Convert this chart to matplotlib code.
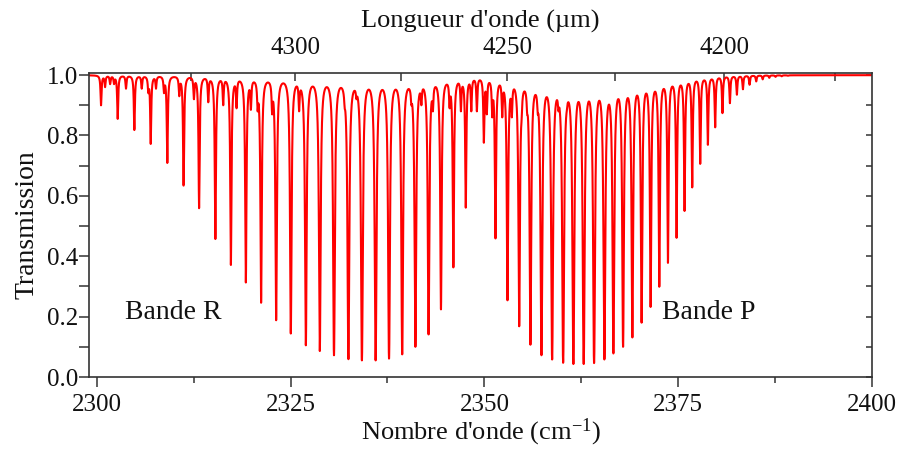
import numpy as np
import matplotlib
matplotlib.use('Agg')
import matplotlib.pyplot as plt
from matplotlib.ticker import MultipleLocator, FixedLocator, FormatStrFormatter

# ---- line list (wavenumber cm-1, transmission at line centre)
r_centers = [2300.55, 2302.70, 2304.85, 2306.96, 2309.10, 2311.20, 2313.20, 2315.30,
             2317.30, 2319.23, 2321.20, 2323.14, 2325.03, 2326.97, 2328.77, 2330.60,
             2332.46, 2334.20, 2335.97, 2337.70, 2339.40, 2341.10, 2342.80, 2344.40,
             2346.00, 2347.60, 2349.93]
r_tmin = [0.900, 0.855, 0.818, 0.772, 0.709, 0.634, 0.559, 0.457,
          0.371, 0.313, 0.246, 0.188, 0.144, 0.105, 0.086, 0.072,
          0.059, 0.055, 0.055, 0.061, 0.075, 0.100, 0.141, 0.224,
          0.363, 0.561, 0.776]

p_centers = [2351.43, 2352.98, 2354.49, 2355.94, 2357.36, 2358.74, 2360.16, 2361.48,
             2362.81, 2364.15, 2365.48, 2366.64, 2367.89, 2369.09, 2370.28, 2371.44,
             2372.56, 2373.68, 2374.79, 2375.82, 2376.81, 2377.84, 2378.83, 2379.77,
             2380.71, 2381.67, 2382.57, 2383.35, 2384.20, 2385.06, 2385.90, 2386.75,
             2387.55, 2388.35, 2389.15]
p_tmin = [0.459, 0.254, 0.168, 0.107, 0.072, 0.058, 0.047, 0.043,
          0.043, 0.046, 0.058, 0.078, 0.100, 0.131, 0.180, 0.232,
          0.299, 0.378, 0.461, 0.550, 0.628, 0.706, 0.769, 0.827,
          0.874, 0.907, 0.935, 0.953, 0.968, 0.979, 0.986, 0.991,
          0.994, 0.996, 0.998]

weak_centers = [2301.07, 2301.72, 2302.23, 2303.77, 2305.80, 2306.65, 2307.64, 2308.67,
                2310.64, 2312.53, 2314.38, 2316.31, 2318.03, 2319.88, 2320.75, 2322.62,
                2326.10, 2329.19, 2330.99, 2331.98, 2333.49, 2340.58, 2341.87, 2343.36,
                2345.51, 2346.97, 2348.31, 2349.03, 2350.31, 2351.01, 2352.30, 2353.54,
                2354.80, 2355.52, 2356.88, 2359.55, 2360.62, 2363.33]
weak_tmin = [0.960, 0.970, 0.970, 0.955, 0.955, 0.940, 0.955, 0.940,
             0.930, 0.920, 0.910, 0.900, 0.890, 0.885, 0.880, 0.870,
             0.880, 0.920, 0.900, 0.890, 0.920, 0.900, 0.900, 0.880,
             0.890, 0.880, 0.880, 0.880, 0.870, 0.860, 0.860, 0.860,
             0.850, 0.870, 0.870, 0.880, 0.880, 0.900]

hwhm = 0.075  # Lorentzian half width (cm-1)

x_ticks = [2300, 2325, 2350, 2375, 2400]
y_ticks = [0.0, 0.2, 0.4, 0.6, 0.8, 1.0]
top_ticks = [4200, 4250, 4300]
top_minor = [4175, 4225, 4275, 4325]

# ---- build spectrum from the line list
centers = np.array(r_centers + p_centers + weak_centers)
tmin = np.array(r_tmin + p_tmin + weak_tmin)
target = -np.log(tmin)
A = hwhm**2 / ((centers[:, None] - centers[None, :])**2 + hwhm**2)
k = target.copy()
for _ in range(300):
    for i in range(len(k)):
        k[i] = max(0.0, target[i] - (A[i] @ k - k[i]))

wn = np.linspace(2299.0, 2400.0, 40000)
absorb = (k[None, :] * hwhm**2 / ((wn[:, None] - centers[None, :])**2 + hwhm**2)).sum(axis=1)
trans = np.exp(-absorb)

# ---- figure
plt.rcParams['font.family'] = ['Liberation Serif', 'DejaVu Serif']
plt.rcParams['mathtext.fontset'] = 'custom'
plt.rcParams['mathtext.rm'] = 'Liberation Serif'
plt.rcParams['mathtext.it'] = 'Liberation Serif:italic'

fig = plt.figure(figsize=(9.04, 4.5), dpi=100)
ax = fig.add_axes([89/904, (450-377)/450, (872-89)/904, (377-73)/450])

ax.plot(wn, trans, color='#ff0000', lw=1.5)

ax.set_xlim(2299.0, 2400.0)
ax.set_ylim(0.0, 1.007)

spine_col = '#333333'
for s in ax.spines.values():
    s.set_linewidth(1.2)
    s.set_color(spine_col)

ax.xaxis.set_major_locator(FixedLocator(x_ticks))
ax.xaxis.set_minor_locator(MultipleLocator(12.5))
ax.yaxis.set_major_locator(FixedLocator(y_ticks))
ax.yaxis.set_minor_locator(MultipleLocator(0.1))
ax.yaxis.set_major_formatter(FormatStrFormatter('%.1f'))
ax.tick_params(axis='both', which='both', direction='out', colors=spine_col,
               labelcolor='#111111', labelsize=18, width=1.1)
ax.tick_params(axis='x', which='major', length=7, pad=5)
ax.tick_params(axis='x', which='minor', length=4)
ax.tick_params(axis='y', which='both', length=7, pad=1)
ax.tick_params(top=False, right=False)

ax.set_xlabel("Nombre d'onde (cm$^{-1}$)", fontsize=19, labelpad=1, color='#111111')
ax.set_ylabel('Transmission', fontsize=20, labelpad=5, color='#111111')

# right axis: inward ticks, no labels
axr = ax.secondary_yaxis('right')
axr.yaxis.set_major_locator(FixedLocator(y_ticks))
axr.yaxis.set_minor_locator(MultipleLocator(0.1))
axr.tick_params(axis='y', which='both', direction='in', length=4, width=1.1,
                colors=spine_col, labelright=False)
axr.spines['right'].set_visible(False)

# top axis: wavelength
axt = ax.secondary_xaxis('top', functions=(lambda x: 1e7 / np.asarray(x, float),
                                           lambda x: 1e7 / np.asarray(x, float)))
axt.xaxis.set_major_locator(FixedLocator(top_ticks))
axt.xaxis.set_minor_locator(FixedLocator(top_minor))
axt.tick_params(axis='x', which='both', direction='in', length=6, width=1.1,
                colors=spine_col, labelcolor='#111111', labelsize=18, pad=10)
axt.spines['top'].set_visible(False)
axt.set_xlabel('Longueur d\'onde (µm)', fontsize=19, labelpad=7, color='#111111')

ax.text(2303.6, 0.215, 'Bande R', fontsize=20, ha='left', va='center', color='#111111')
ax.text(2372.9, 0.215, 'Bande P', fontsize=20, ha='left', va='center', color='#111111')

fig.savefig('out.png', dpi=100)
